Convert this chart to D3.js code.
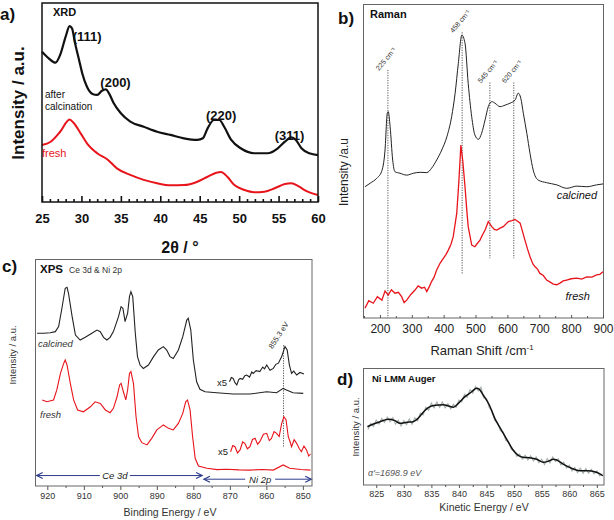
<!DOCTYPE html>
<html><head><meta charset="utf-8">
<script src="https://cdn.jsdelivr.net/npm/d3@7"></script>
<style>
body{margin:0;background:#fff}
svg{display:block}
text{font-family:Arial,"Liberation Sans",Helvetica,sans-serif}
</style>
</head><body>
<svg id="chart" width="614" height="520"></svg>
<script>
// ---------- DATA ----------
// a) XRD  [2theta, intensity a.u.]
const xrdTicks = [25,30,35,40,45,50,55,60];
const xrdCalcined = [[25.0,75.5],[25.85,72.2],[26.7,70.0],[27.3,73.9],[28.0,83.1],[28.5,88.4],[28.8,87.3],[29.2,79.7],[29.7,71.4],[30.1,64.7],[30.7,57.9],[31.4,54.3],[32.0,53.8],[32.6,55.9],[33.1,56.6],[33.5,54.6],[34.1,49.6],[35.0,44.6],[36.2,40.4],[37.9,37.8],[39.6,35.3],[41.3,33.7],[43.0,32.0],[44.7,31.2],[45.4,32.0],[46.0,37.0],[46.8,41.2],[47.5,41.2],[48.1,37.8],[49.0,31.2],[50.2,27.0],[51.9,24.5],[53.6,24.5],[54.9,27.0],[55.8,30.3],[56.6,32.5],[57.2,31.2],[57.9,27.0],[58.9,24.5],[60.0,23.6]];
const xrdFresh = [[25.0,28.6],[26.1,30.3],[27.3,35.3],[28.5,41.5],[29.0,39.8],[29.9,34.5],[30.7,29.5],[32.0,24.5],[33.3,21.4],[34.5,16.9],[36.2,13.6],[37.9,11.1],[39.6,9.4],[41.3,8.4],[43.0,8.5],[44.7,10.2],[46.0,12.7],[47.1,14.7],[47.7,15.1],[48.5,12.7],[49.4,8.5],[50.7,6.0],[51.9,4.9],[53.2,5.2],[54.5,6.9],[55.8,9.0],[56.6,9.4],[57.5,8.0],[58.3,6.0],[60.0,3.5]];
const xrdPeaks = [["(111)",28.9,81],["(200)",32.4,58],["(220)",45.8,41],["(311)",54.5,31]];

// b) Raman  [wavenumber, intensity a.u.]
const ramanTicks = [200,300,400,500,600,700,800,900];
const ramanCalcined = [[153,41.8],[169,42.9],[190,44.5],[205,46.6],[216,53.5],[223,65.2],[226,65.7],[232,60.9],[240,50.3],[247,46.6],[263,46.1],[284,45.5],[305,46.1],[326,46.4],[347,46.3],[362,47.7],[378,50.3],[394,53.5],[410,57.7],[425,64.1],[436,71.6],[446,81.1],[457,90.1],[467,87.5],[477,74.7],[488,64.1],[498,58.3],[509,56.9],[519,58.8],[530,63.1],[540,67.3],[551,68.9],[561,68.4],[577,67.3],[593,67.8],[608,68.4],[624,69.4],[634,71.6],[642,70.0],[650,65.2],[661,58.8],[671,52.4],[681,47.1],[697,43.9],[723,43.1],[755,42.4],[786,41.3],[818,42.0],[849,41.8],[880,42.4],[900,42.7]];
const ramanFresh = [[153,3.1],[165,5.5],[179,4.7],[192,6.8],[206,5.7],[216,8.6],[226,7.3],[236,9.0],[247,7.9],[258,8.2],[268,6.8],[276,4.9],[284,5.7],[297,7.5],[310,8.9],[320,10.2],[331,9.5],[340,9.8],[347,8.4],[355,10.0],[362,11.6],[370,13.0],[378,15.3],[389,17.5],[399,19.0],[407,20.2],[415,21.7],[423,23.5],[430,25.9],[441,33.3],[448,44.0],[454,55.1],[460,50.0],[467,41.8],[472,35.0],[477,29.1],[488,23.2],[498,22.7],[506,23.8],[514,24.8],[522,26.5],[530,28.0],[540,30.7],[551,29.1],[559,28.2],[567,28.0],[577,28.6],[587,29.1],[603,30.7],[614,31.0],[624,31.4],[632,30.8],[640,30.2],[655,24.8],[663,22.0],[671,19.5],[680,17.2],[687,16.3],[695,15.5],[702,14.2],[712,13.6],[723,12.1],[733,11.5],[744,10.8],[755,10.6],[765,11.1],[775,11.8],[786,12.1],[800,12.5],[818,12.7],[833,12.4],[849,13.1],[865,13.0],[880,13.7],[890,13.9],[900,14.7]];
const ramanPeaks = [225,458,545,620];
const ramanPeakTop = [79,91,75,75];
const ramanPeakBottom = [0,14,19,19];

// c) XPS Ce 3d & Ni 2p  [binding energy eV, intensity a.u.]
const xpsTicks = [920,910,900,890,880,870,860,850];
const xpsCalcined = [[922.8,67.3],[921.0,67.3],[919.2,67.5],[917.8,68.0],[916.9,70.2],[916.0,78.3],[915.1,87.1],[914.6,87.5],[914.2,84.9],[913.2,74.6],[912.3,66.5],[911.0,64.3],[909.6,65.5],[907.8,67.3],[906.4,68.7],[905.5,68.0],[904.6,65.5],[903.7,64.3],[902.8,65.5],[901.9,68.0],[900.5,74.6],[899.8,79.0],[899.3,78.3],[898.7,72.4],[898.0,76.1],[897.5,83.4],[897.1,85.6],[896.6,83.4],[895.9,67.3],[895.3,57.0],[894.6,53.3],[893.7,51.8],[892.3,53.3],[890.9,57.0],[889.6,59.9],[888.2,61.4],[887.3,59.9],[886.4,57.0],[885.5,56.2],[884.1,59.9],[882.9,65.8],[881.8,73.1],[881.4,73.9],[880.7,68.7],[880.0,55.5],[879.1,45.9],[878.2,42.6],[876.8,41.5],[873.6,41.1],[869.1,40.5],[864.5,40.5],[859.9,41.5],[857.2,41.1],[855.4,43.0],[854.5,42.3],[852.7,41.1],[849.9,40.8]];
const xpsFresh = [[921.4,37.9],[920.1,37.1],[918.3,37.9],[917.4,42.3],[916.4,49.6],[915.5,54.1],[915.1,55.5],[914.6,53.3],[913.7,45.2],[912.8,37.9],[911.7,33.5],[910.1,32.7],[908.2,34.9],[906.9,37.1],[905.5,36.4],[904.1,33.5],[902.8,32.3],[901.9,34.2],[900.9,39.3],[900.2,44.5],[899.8,45.2],[899.3,42.3],[898.5,37.9],[898.0,42.3],[897.5,49.6],[897.1,50.4],[896.4,45.2],[895.7,30.5],[895.0,21.7],[894.1,19.1],[892.7,18.1],[891.4,21.0],[890.0,24.7],[888.2,26.9],[886.8,25.4],[885.5,24.7],[884.1,27.6],[882.9,32.0],[882.1,37.1],[881.6,37.9],[880.9,33.5],[880.2,21.7],[879.5,12.2],[878.6,8.8],[876.3,7.8],[873.5,7.2],[870.9,7.4],[867.5,7.1],[864.5,7.0],[861.0,7.3],[858.1,7.0],[855.4,9.3],[853.6,7.8],[850.5,7.3],[847.9,7.0]];
const xpsCalcinedX5 = [[870.1,45.9],[869.6,47.8],[869.1,47.4],[868.6,45.5],[868.1,44.5],[867.6,46.8],[867.2,47.4],[866.5,47.0],[865.9,48.6],[865.4,48.9],[864.6,48.0],[864.0,50.2],[863.6,49.6],[862.8,50.8],[861.8,50.4],[861.0,52.4],[860.5,51.6],[859.9,53.3],[859.0,51.0],[858.1,51.8],[857.4,53.6],[856.7,54.1],[855.8,57.0],[854.9,61.4],[854.3,59.9],[853.7,53.3],[853.1,49.6],[852.5,50.6],[851.7,48.9],[850.8,50.0],[849.7,49.3]];
const xpsFreshX5 = [[869.8,15.1],[869.2,17.8],[868.6,17.3],[867.9,14.6],[867.2,15.9],[866.5,19.4],[865.9,18.8],[865.2,16.4],[864.5,17.3],[863.8,20.5],[863.1,21.0],[862.4,18.4],[861.8,19.5],[860.8,22.8],[859.9,23.2],[859.2,20.0],[858.6,21.0],[857.9,24.0],[857.2,23.2],[856.5,21.8],[855.8,27.6],[855.2,30.5],[854.6,29.1],[854.0,21.7],[853.5,19.5],[853.1,17.3],[852.4,20.4],[851.7,18.8],[851.0,16.5],[850.4,15.1],[849.7,17.6],[849.0,15.9],[848.4,13.2],[847.9,14.1]];
const xpsNiPeak = 855.3;

// d) Ni LMM Auger  [kinetic energy eV, intensity a.u.]
const augerTicks = [825,830,835,840,845,850,855,860,865];
const augerSmooth = [[823.4,49.8],[824.5,52.1],[825.7,54.1],[827.2,56.2],[828.4,55.0],[829.3,52.7],[830.6,53.6],[831.7,54.1],[832.6,57.0],[833.6,62.6],[834.5,66.4],[835.7,68.1],[837.2,68.6],[838.1,67.5],[839.0,66.4],[839.9,69.8],[841.1,75.5],[842.3,79.7],[843.2,82.6],[843.7,81.8],[844.4,76.9],[845.5,68.4],[846.5,57.0],[847.7,47.0],[848.9,37.0],[849.8,29.9],[850.7,25.6],[851.6,23.7],[852.8,23.3],[854.1,22.0],[855.3,19.4],[856.2,20.3],[857.1,22.0],[857.7,21.4],[858.9,17.9],[860.4,14.3],[861.9,12.2],[863.4,12.2],[864.6,11.4],[865.4,10.0],[866.1,7.9]];
const augerRaw = [[823.5,47.5],[824.0,52.5],[824.5,50.0],[825.0,55.5],[825.5,52.0],[826.0,57.0],[826.5,53.5],[827.0,58.0],[827.5,54.0],[828.0,57.5],[828.5,52.0],[829.0,55.5],[829.5,50.5],[830.0,55.0],[830.5,51.5],[831.0,56.5],[831.5,52.0],[832.0,57.5],[832.5,55.0],[833.0,61.5],[833.5,60.0],[834.0,66.5],[834.5,64.0],[835.0,70.0],[835.5,66.0],[836.0,71.0],[836.5,66.5],[837.0,71.0],[837.5,66.0],[838.0,69.5],[838.5,65.0],[839.0,69.0],[839.5,66.5],[840.0,72.5],[840.5,71.0],[841.0,77.5],[841.5,75.0],[842.0,81.5],[842.5,78.5],[843.0,84.0],[843.5,80.5],[844.0,83.5],[844.5,74.5],[845.0,74.0],[845.5,66.0],[846.0,63.5],[846.5,55.0],[847.0,53.5],[847.5,46.5],[848.0,45.5],[848.5,38.0],[849.0,37.0],[849.5,30.5],[850.0,29.5],[850.5,24.5],[851.0,26.5],[851.5,22.0],[852.0,25.5],[852.5,21.5],[853.0,25.0],[853.5,20.5],[854.0,24.0],[854.5,19.0],[855.0,22.0],[855.5,17.5],[856.0,22.5],[856.5,19.0],[857.0,24.0],[857.5,20.0],[858.0,22.5],[858.5,17.0],[859.0,19.5],[859.5,14.5],[860.0,17.0],[860.5,12.0],[861.0,15.0],[861.5,10.5],[862.0,14.5],[862.5,10.0],[863.0,14.0],[863.5,10.0],[864.0,13.5],[864.5,9.5],[865.0,12.0],[865.5,8.0],[866.0,9.5]];

// ---------- DRAWING ----------
const RED = "#e8141b";
const svg = d3.select("#chart");
const lineGen = (x, y, curve) => d3.line().x(d => x(d[0])).y(d => y(d[1])).curve(curve || d3.curveMonotoneX);

function drawAxis(g, x, y0, major, minor, opt) {
  const ax = g.append("g").attr("transform", `translate(0,${y0})`)
    .call(d3.axisBottom(x).tickValues(major).tickSize(opt.tick).tickPadding(opt.pad).tickFormat(d3.format("d")));
  ax.select(".domain").remove();
  ax.selectAll("line").attr("stroke", opt.color).attr("stroke-width", opt.sw);
  ax.selectAll("text").attr("font-size", opt.fs).attr("font-weight", opt.fw || "normal").attr("fill", opt.tcolor || "#222").attr("font-family", "Arial, 'Liberation Sans', sans-serif");
  const mx = g.append("g").attr("transform", `translate(0,${y0})`)
    .call(d3.axisBottom(x).tickValues(minor).tickSize(opt.minTick).tickFormat(""));
  mx.select(".domain").remove();
  mx.selectAll("line").attr("stroke", opt.color).attr("stroke-width", opt.sw);
}
function txt(g, x, y, s, o) {
  const t = g.append("text").attr("x", x).attr("y", y).text(s)
    .attr("font-size", o.fs).attr("fill", o.fill || "#111")
    .attr("font-weight", o.fw || "normal").attr("font-style", o.style || "normal")
    .attr("text-anchor", o.anchor || "start");
  if (o.rot !== undefined) t.attr("transform", `rotate(${o.rot},${x},${y})`);
  return t;
}

// ===== a) XRD =====
{
  const g = svg.append("g");
  const x = d3.scaleLinear([25, 60], [42, 318]);
  const y = d3.scaleLinear([0, 100], [202, 3]);
  g.append("path").datum(xrdFresh).attr("d", lineGen(x, y)).attr("fill", "none").attr("stroke", RED).attr("stroke-width", 2);
  g.append("path").datum(xrdCalcined).attr("d", lineGen(x, y)).attr("fill", "none").attr("stroke", "#111").attr("stroke-width", 2.2);
  g.append("rect").attr("x", 42).attr("y", 3).attr("width", 276).attr("height", 199).attr("fill", "none").attr("stroke", "#111").attr("stroke-width", 1.5);
  drawAxis(g, x, 202, xrdTicks, d3.range(25, 61).filter(v => v % 5), {tick: -6, minTick: -3, pad: 12, color: "#111", sw: 1.6, fs: 13, fw: "bold", tcolor: "#111"});
  txt(g, 0, 20, "a)", {fs: 17, fw: "bold"});
  txt(g, 53, 16, "XRD", {fs: 11, fw: "bold"});
  xrdPeaks.forEach(p => txt(g, x(p[1]), y(p[2]), p[0], {fs: 13, fw: "bold"}));
  txt(g, 45, 98, "after", {fs: 10});
  txt(g, 45, 110, "calcination", {fs: 10});
  txt(g, 42, 157, "fresh", {fs: 11, fill: RED});
  txt(g, 180, 253, "2θ / °", {fs: 16, fw: "bold", anchor: "middle"});
  txt(g, 24, 103, "Intensity / a.u.", {fs: 17, fw: "bold", anchor: "middle", rot: -90});
}

// ===== b) Raman =====
{
  const g = svg.append("g");
  const x = d3.scaleLinear([150, 900], [364, 603]);
  const y = d3.scaleLinear([0, 100], [318, 4]);
  ramanPeaks.forEach((p, i) => {
    g.append("line").attr("x1", x(p)).attr("x2", x(p)).attr("y1", y(ramanPeakTop[i])).attr("y2", y(ramanPeakBottom[i]))
      .attr("stroke", "#555").attr("stroke-width", 1).attr("stroke-dasharray", "1.2,1.3");
    const cx = x(p) - 2, cy = y(ramanPeakTop[i]) - 11;
    g.append("text").attr("transform", `translate(${cx},${cy}) rotate(-50)`).attr("text-anchor", "middle").attr("dy", "0.35em")
      .attr("font-size", 7).attr("fill", "#333").text(p + " cm\u207B\u00B9");
  });
  g.append("path").datum(ramanCalcined).attr("d", lineGen(x, y)).attr("fill", "none").attr("stroke", "#222").attr("stroke-width", 1);
  g.append("path").datum(ramanFresh).attr("d", lineGen(x, y, d3.curveLinear)).attr("fill", "none").attr("stroke", RED).attr("stroke-width", 1.3);
  g.append("rect").attr("x", 363.5).attr("y", 4.5).attr("width", 240).attr("height", 313.5).attr("fill", "none").attr("stroke", "#666").attr("stroke-width", 1);
  drawAxis(g, x, 318, ramanTicks, d3.range(150, 900, 100), {tick: -3, minTick: -2, pad: 6, color: "#555", sw: 1, fs: 12, tcolor: "#222"});
  txt(g, 338, 24, "b)", {fs: 17, fw: "bold"});
  txt(g, 370, 18, "Raman", {fs: 11, fw: "bold"});
  txt(g, 597, 199, "calcined", {fs: 11, style: "italic", anchor: "end"});
  txt(g, 590, 300, "fresh", {fs: 11, style: "italic", anchor: "end"});
  const xl = g.append("text").attr("x", 482).attr("y", 355).attr("text-anchor", "middle").attr("font-size", 13).attr("fill", "#222");
  xl.append("tspan").text("Raman Shift  /cm");
  xl.append("tspan").attr("font-size", 8).attr("dy", -5).text("-1");
  txt(g, 348, 172, "Intensity /a.u", {fs: 12, anchor: "middle", rot: -90, fill: "#222"});
}

// ===== c) XPS =====
{
  const g = svg.append("g");
  const x = d3.scaleLinear([923.1, 847.5], [36, 312]);
  const y = d3.scaleLinear([0, 100], [486, 259]);
  g.append("line").attr("x1", x(xpsNiPeak)).attr("x2", x(xpsNiPeak)).attr("y1", y(62)).attr("y2", y(17))
    .attr("stroke", "#555").attr("stroke-width", 1).attr("stroke-dasharray", "1.2,1.3");
  g.append("text").attr("transform", `translate(${x(xpsNiPeak) - 5},${y(62) - 10}) rotate(-57)`).attr("text-anchor", "middle").attr("dy", "0.35em")
    .attr("font-size", 7.5).attr("fill", "#333").text("855.3 eV");
  [[xpsCalcined, "#222"], [xpsCalcinedX5, "#222"], [xpsFresh, RED], [xpsFreshX5, RED]].forEach(([d, c]) =>
    g.append("path").datum(d).attr("d", lineGen(x, y, d3.curveLinear)).attr("fill", "none").attr("stroke", c).attr("stroke-width", 1.1));
  // region arrows
  const NAVY = "#2d3a8c";
  const arrow = (e0, e1, lv, label, le) => {
    const x0 = x(e0), x1 = x(e1), yy = y(lv);
    g.append("line").attr("x1", x0).attr("x2", x1).attr("y1", yy).attr("y2", yy).attr("stroke", NAVY).attr("stroke-width", 1);
    g.append("path").attr("d", `M${x0 + 6},${yy - 3}L${x0},${yy}L${x0 + 6},${yy + 3}`).attr("fill", "none").attr("stroke", NAVY).attr("stroke-width", 1.2);
    g.append("path").attr("d", `M${x1 - 6},${yy - 3}L${x1},${yy}L${x1 - 6},${yy + 3}`).attr("fill", "none").attr("stroke", NAVY).attr("stroke-width", 1.2);
    g.append("rect").attr("x", x(le) - 15).attr("y", yy - 5).attr("width", 30).attr("height", 10).attr("fill", "#fff");
    txt(g, x(le), yy + 3.5, label, {fs: 9.5, style: "italic", anchor: "middle", fill: "#222"});
  };
  arrow(922.9, 877.6, 4.6, "Ce 3d", 901.5);
  arrow(877.1, 847.7, 3.0, "Ni 2p", 861.7);
  g.append("rect").attr("x", 35.5).attr("y", 259.5).attr("width", 276.5).attr("height", 226.5).attr("fill", "none").attr("stroke", "#666").attr("stroke-width", 1);
  drawAxis(g, x, 486, xpsTicks, d3.range(915, 849, -10), {tick: 4, minTick: 2, pad: 3, color: "#555", sw: 1, fs: 9, tcolor: "#333"});
  txt(g, 2, 272, "c)", {fs: 17, fw: "bold"});
  txt(g, 40, 273, "XPS", {fs: 11.5, fw: "bold"});
  txt(g, 69, 273, "Ce 3d & Ni 2p", {fs: 8.5, fill: "#333"});
  txt(g, 38, 347, "calcined", {fs: 9.5, style: "italic", fill: "#333"});
  txt(g, 40, 418, "fresh", {fs: 9.5, style: "italic", fill: "#333"});
  txt(g, 217, 386, "x5", {fs: 9.5, fill: "#222"});
  txt(g, 218, 455, "x5", {fs: 9.5, fill: "#222"});
  txt(g, 170, 516, "Binding Energy / eV", {fs: 10.5, anchor: "middle", fill: "#333"});
  txt(g, 16, 355, "Intensity / a.u.", {fs: 9.5, anchor: "middle", rot: -90, fill: "#333"});
}

// ===== d) Ni LMM Auger =====
{
  const g = svg.append("g");
  const x = d3.scaleLinear([822.6, 866.3], [363, 604]);
  const y = d3.scaleLinear([0, 100], [485, 368]);
  g.append("path").datum(augerRaw).attr("d", lineGen(x, y, d3.curveLinear)).attr("fill", "none").attr("stroke", "#a4b0aa").attr("stroke-width", 1.1);
  g.append("path").datum(augerSmooth).attr("d", lineGen(x, y)).attr("fill", "none").attr("stroke", "#111").attr("stroke-width", 1.5);
  g.append("rect").attr("x", 363.5).attr("y", 368.5).attr("width", 240.5).attr("height", 116.5).attr("fill", "none").attr("stroke", "#666").attr("stroke-width", 1);
  drawAxis(g, x, 485, augerTicks, d3.range(827.5, 866, 5), {tick: 3, minTick: 2, pad: 3, color: "#555", sw: 1, fs: 9, tcolor: "#333"});
  txt(g, 337, 385, "d)", {fs: 17, fw: "bold"});
  txt(g, 372, 382, "Ni LMM Auger", {fs: 9.5, fw: "bold"});
  txt(g, 368, 476, "\u03B1'=1698.9 eV", {fs: 9, style: "italic", fill: "#555"});
  txt(g, 484, 511, "Kinetic Energy / eV", {fs: 10.5, anchor: "middle", fill: "#333"});
  txt(g, 359, 427, "Intensity / a.u.", {fs: 9.5, anchor: "middle", rot: -90, fill: "#333"});
}
</script>
</body></html>
